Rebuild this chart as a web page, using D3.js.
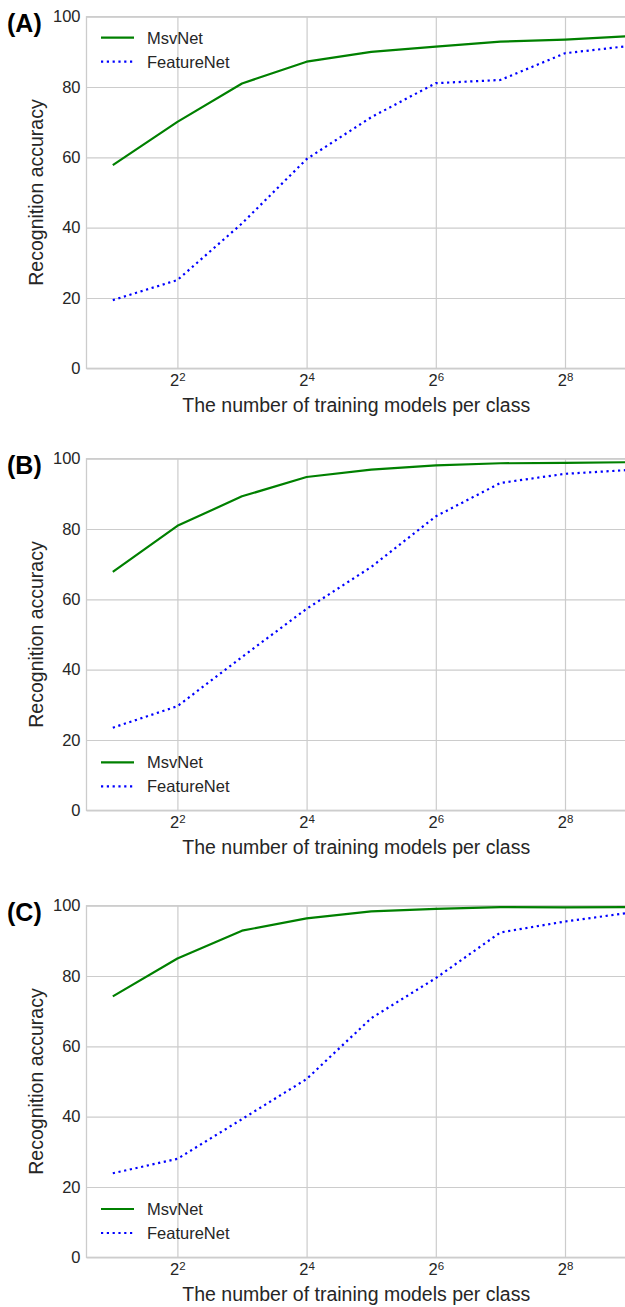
<!DOCTYPE html>
<html>
<head>
<meta charset="utf-8">
<script src="https://cdn.jsdelivr.net/npm/d3@7"></script>
<style>
  html, body { margin: 0; padding: 0; background: #fff; }
  svg { display: block; font-family: "Liberation Sans", Arial, sans-serif; }
</style>
</head>
<body>
<svg id="chart" width="625" height="1307"></svg>
<script>
// ---- data ----
const trainSizes = [2, 4, 8, 16, 32, 64, 128, 256, 512];
const yTickValues = [0, 20, 40, 60, 80, 100];
const xTickValues = [4, 16, 64, 256];
const seriesNames = ["MsvNet", "FeatureNet"];
const panelLabels = ["(A)", "(B)", "(C)"];

const msvNetA     = [57.8, 70.1, 81.0, 87.2, 90.0, 91.5, 92.9, 93.5, 94.5];
const featureNetA = [19.4, 25.1, 41.2, 59.5, 71.4, 81.1, 82.0, 89.6, 91.7];
const msvNetB     = [67.8, 80.9, 89.3, 94.8, 96.9, 98.1, 98.7, 98.8, 99.0];
const featureNetB = [23.5, 29.6, 43.6, 57.3, 69.2, 83.6, 93.1, 95.7, 96.8];
const msvNetC     = [74.2, 85.0, 92.9, 96.4, 98.4, 99.1, 99.6, 99.5, 99.6];
const featureNetC = [23.9, 28.0, 39.3, 50.7, 68.0, 79.4, 92.4, 95.5, 98.0];

const xLabel = "The number of training models per class";
const yLabel = "Recognition accuracy";

// ---- layout ----
const svg = d3.select("#chart");
const left = 86.5, right = 626;
const plotH = 351.6;
const panels = [
  { label: panelLabels[0], top: 16.7, msv: msvNetA, feat: featureNetA, legendY: 21 },
  { label: panelLabels[1], top: 458.7, msv: msvNetB, feat: featureNetB, legendY: plotH - 48 },
  { label: panelLabels[2], top: 905.7, msv: msvNetC, feat: featureNetC, legendY: plotH - 48.3 }
];

const textColor = "#262626";
const gridColor = "#cccccc";
const colors = ["#008000", "#0000ff"];

// x: log2 scale, gridlines at 2^2 -> 177.4, 64.6 px per power of two
const pxPerPow = 64.6;
const lo = Math.pow(2, 2 - (177.4 - left) / pxPerPow);
const hi = Math.pow(2, 2 + (right - 177.4) / pxPerPow);
const x = d3.scaleLog().base(2).domain([lo, hi]).range([left, right]);

const defs = svg.append("defs");

panels.forEach((p, i) => {
  const g = svg.append("g").attr("transform", `translate(0,${p.top})`);
  const y = d3.scaleLinear().domain([0, 100]).range([plotH, 0]);

  defs.append("clipPath").attr("id", "clip" + i)
    .append("rect").attr("x", left).attr("y", -2).attr("width", right - left).attr("height", plotH + 4);

  // horizontal grid + y tick labels
  const yAxis = g.append("g")
    .attr("transform", `translate(${left},0)`)
    .call(d3.axisLeft(y).tickValues(yTickValues).tickSize(-(right - left)).tickPadding(6).tickFormat(d3.format("d")));
  yAxis.select(".domain").remove();
  yAxis.selectAll("line").attr("stroke", gridColor).attr("stroke-width", 1.2);
  yAxis.selectAll("text").attr("fill", textColor).attr("font-size", 16.5)
    .attr("font-family", "'Liberation Sans', Arial, sans-serif");

  // vertical grid + x tick labels
  const xAxis = g.append("g")
    .attr("transform", `translate(0,${plotH})`)
    .call(d3.axisBottom(x).tickValues(xTickValues).tickSize(-plotH).tickPadding(8));
  xAxis.select(".domain").remove();
  xAxis.selectAll("line").attr("stroke", gridColor).attr("stroke-width", 1.2);
  xAxis.selectAll("text")
    .attr("fill", textColor).attr("font-size", 16.5)
    .attr("font-family", "'Liberation Sans', Arial, sans-serif")
    .attr("dy", null).attr("y", 18)
    .each(function(d) {
      const t = d3.select(this);
      t.text(null);
      t.append("tspan").text("2");
      t.append("tspan").attr("dy", -5.5).attr("font-size", 11.5).text(Math.round(Math.log2(d)));
    });

  // frame (spines)
  g.append("rect")
    .attr("x", left).attr("y", 0).attr("width", right - left).attr("height", plotH)
    .attr("fill", "none").attr("stroke", gridColor).attr("stroke-width", 1.3);

  // lines
  const line = d3.line().x((d, j) => x(trainSizes[j])).y(d => y(d));
  const lines = g.append("g").attr("clip-path", `url(#clip${i})`);
  lines.append("path").datum(p.msv)
    .attr("d", line).attr("fill", "none").attr("stroke", colors[0])
    .attr("stroke-width", 2.2).attr("stroke-linejoin", "round");
  lines.append("path").datum(p.feat)
    .attr("d", line).attr("fill", "none").attr("stroke", colors[1])
    .attr("stroke-width", 2.2).attr("stroke-dasharray", "2.2,3.6");

  // legend
  const lg = g.append("g").attr("transform", `translate(0,${p.legendY})`);
  seriesNames.forEach((name, k) => {
    const ly = k * 24;
    lg.append("line").attr("x1", 101).attr("x2", 134).attr("y1", ly).attr("y2", ly)
      .attr("stroke", colors[k]).attr("stroke-width", 2.2)
      .attr("stroke-dasharray", k === 1 ? "2.2,3.6" : null);
    lg.append("text").attr("x", 147).attr("y", ly).attr("dy", "0.36em")
      .attr("font-size", 16.5).attr("fill", textColor).text(name);
  });

  // axis titles
  g.append("text")
    .attr("x", (left + right) / 2).attr("y", plotH + 44)
    .attr("text-anchor", "middle").attr("font-size", 19.5).attr("fill", textColor)
    .text(xLabel);
  g.append("text")
    .attr("transform", `translate(42.5,${plotH / 2}) rotate(-90)`)
    .attr("text-anchor", "middle").attr("font-size", 19.5).attr("fill", textColor)
    .text(yLabel);

  // panel label
  g.append("text")
    .attr("x", 7).attr("y", 15.5)
    .attr("font-size", 25).attr("font-weight", "bold").attr("fill", "#000")
    .text(p.label);
});
</script>
</body>
</html>
